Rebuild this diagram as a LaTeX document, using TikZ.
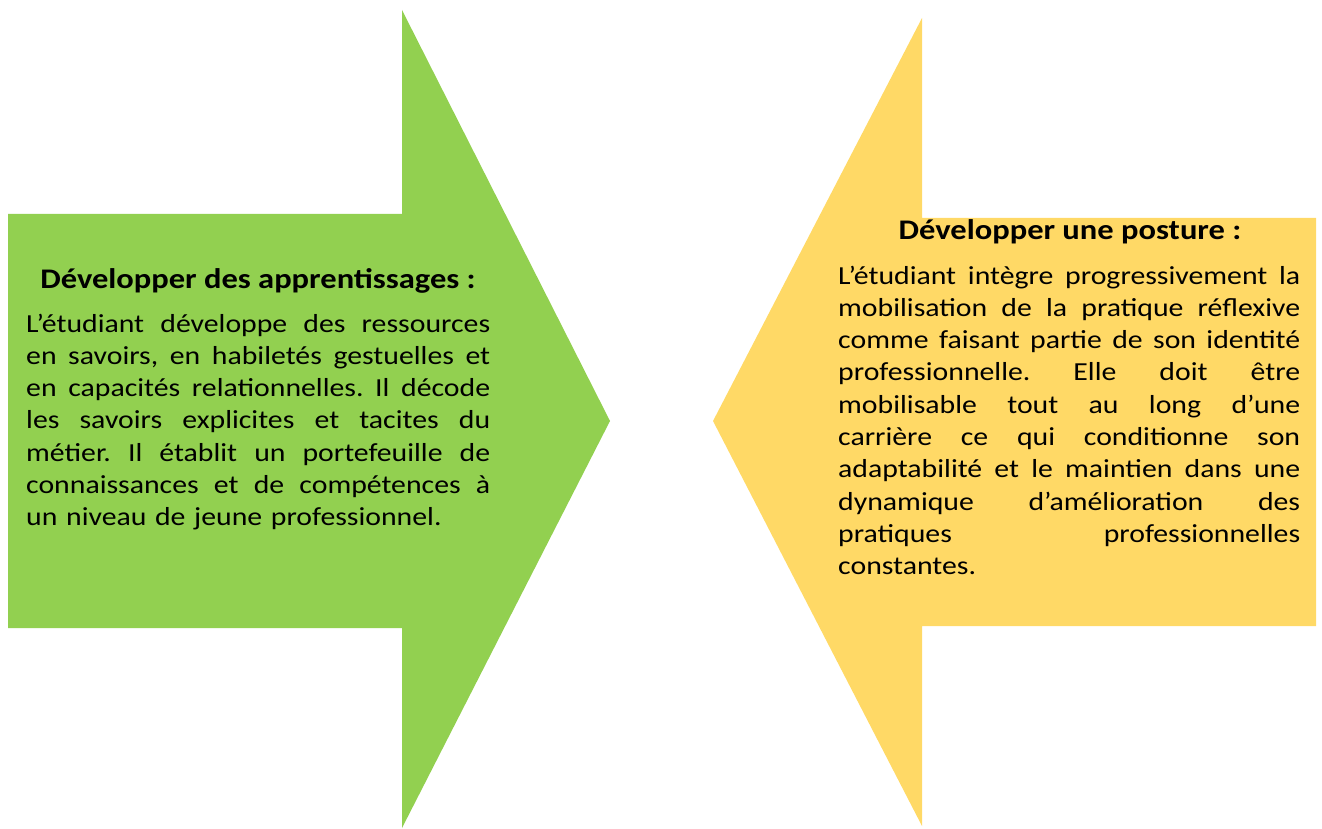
\documentclass[tikz,border=0pt]{standalone}
\usepackage{fontspec}
\setmainfont{Carlito}[FakeStretch=1.145]
\definecolor{arrowgreen}{HTML}{92D050}
\definecolor{arrowgold}{HTML}{FFD966}
\hbadness=10000
\hfuzz=30pt
\newcommand\jline[2]{\noindent\hbox to #1{\spaceskip=.26em plus 1fil minus .05em\relax #2}\par}
\newcommand\lastline[2]{\noindent\hbox to #1{#2\hfil}\par}
\begin{document}
\frenchspacing
\begin{tikzpicture}[x=1pt,y=-1pt,
  bodytext/.style={font=\fontsize{26}{32.3}\selectfont, align=left, inner sep=0pt, anchor=base west},
  titletext/.style={font=\fontsize{28.4}{32.3}\selectfont\bfseries, inner sep=0pt, anchor=base}]
\useasboundingbox (0,0) rectangle (1322,829);
\fill[arrowgreen] (8,214) -- (402,214) -- (402,10) -- (610,421) -- (402,828) -- (402,628) -- (8,628) -- cycle;
\fill[arrowgold] (1316,218) -- (922,218) -- (922,18) -- (713,421) -- (922,826) -- (922,626) -- (1316,626) -- cycle;
\node[titletext] (gtitle) at (258,288) {Développer des apprentissages :};
\node[bodytext, text width=464pt] (gbody) at (26,332) {%
\jline{464pt}{L’étudiant développe des ressources}%
\jline{464pt}{en savoirs, en habiletés gestuelles et}%
\jline{464pt}{en capacités relationnelles. Il décode}%
\jline{464pt}{les savoirs explicites et tacites du}%
\jline{464pt}{métier. Il établit un portefeuille de}%
\jline{464pt}{connaissances et de compétences à}%
\lastline{464pt}{un niveau de jeune professionnel.}};
\node[titletext] (ytitle) at (1070,239) {Développer une posture :};
\node[bodytext, text width=462pt] (ybody) at (838,284) {%
\jline{462pt}{L’étudiant intègre progressivement la}%
\jline{462pt}{mobilisation de la pratique réflexive}%
\jline{462pt}{comme faisant partie de son identité}%
\jline{462pt}{professionnelle. Elle doit être}%
\jline{462pt}{mobilisable tout au long d’une}%
\jline{462pt}{carrière ce qui conditionne son}%
\jline{462pt}{adaptabilité et le maintien dans une}%
\jline{462pt}{dynamique d’amélioration des}%
\jline{462pt}{pratiques professionnelles}%
\lastline{462pt}{constantes.}};
\end{tikzpicture}
\end{document}
